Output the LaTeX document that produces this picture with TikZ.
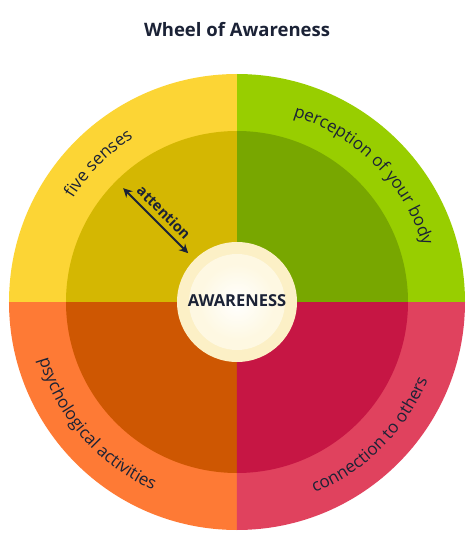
\documentclass[tikz,border=0pt]{standalone}
\usepackage{fontspec}
\setmainfont{Open Sans}
\usetikzlibrary{decorations.text,arrows.meta}

\definecolor{yelOut}{HTML}{FCD535}
\definecolor{yelIn}{HTML}{D4B702}
\definecolor{grnOut}{HTML}{98CE00}
\definecolor{grnIn}{HTML}{78A700}
\definecolor{orgOut}{HTML}{FE7A35}
\definecolor{orgIn}{HTML}{CE5702}
\definecolor{redOut}{HTML}{E0425E}
\definecolor{redIn}{HTML}{C61644}
\definecolor{ink}{HTML}{1B2236}
\definecolor{creamA}{HTML}{FCF0C6}
\definecolor{creamB}{HTML}{FEF8E2}

\newcommand\ringfont{\fontsize{17}{20}\selectfont}

\tikzset{
    ringtext/.style={decoration={text along path, text align=center,
        text color=ink, text={|\ringfont|#1}}, decorate},
}

\begin{document}
\begin{tikzpicture}
        \useasboundingbox (-237pt,-239pt) rectangle (237pt,302pt);
        \node[font=\bfseries\fontsize{18.5}{21}\selectfont, text=ink] (title) at (0,272pt) {Wheel of Awareness};
        % outer ring
        \fill[grnOut] (0,0) -- (0:228pt) arc[start angle=0, end angle=90, radius=228pt] -- cycle;
        \fill[yelOut] (0,0) -- (90:228pt) arc[start angle=90, end angle=180, radius=228pt] -- cycle;
        \fill[orgOut] (0,0) -- (180:228pt) arc[start angle=180, end angle=270, radius=228pt] -- cycle;
        \fill[redOut] (0,0) -- (270:228pt) arc[start angle=270, end angle=360, radius=228pt] -- cycle;
        % inner ring
        \fill[grnIn] (0,0) -- (0:171pt) arc[start angle=0, end angle=90, radius=171pt] -- cycle;
        \fill[yelIn] (0,0) -- (90:171pt) arc[start angle=90, end angle=180, radius=171pt] -- cycle;
        \fill[orgIn] (0,0) -- (180:171pt) arc[start angle=180, end angle=270, radius=171pt] -- cycle;
        \fill[redIn] (0,0) -- (270:171pt) arc[start angle=270, end angle=360, radius=171pt] -- cycle;
        % hub
        \fill[creamA] (0,0) circle (60pt);
        \fill[creamB] (0,0) circle (48pt);
        \shade[inner color=white, outer color=creamB] (0,0) circle (38pt);
        \node[font=\bfseries\fontsize{16.5}{19}\selectfont, text=ink] (aware) at (0,1pt) {AWARENESS};
        % ring labels
        \path[ringtext={five senses}] (175:194pt) arc[start angle=175, end angle=95, radius=194pt];
        \path[ringtext={perception of your body}] (85:194pt) arc[start angle=85, end angle=5, radius=194pt];
        \path[ringtext={psychological activities}] (181:206pt) arc[start angle=181, end angle=261, radius=206pt];
        \path[ringtext={connection to others}] (-85:206pt) arc[start angle=-85, end angle=-5, radius=206pt];
        % attention arrow
        \coordinate (attA) at (135:161pt);
        \coordinate (attB) at (135:69pt);
        \draw[{Stealth[length=9pt,width=9pt]}-{Stealth[length=9pt,width=9pt]}, line width=1.8pt, ink]
            (attA) -- node[midway, sloped, above=2pt, font=\bfseries\fontsize{14.5}{17}\selectfont, text=ink] (attn) {attention} (attB);
    \end{tikzpicture}
\end{document}
